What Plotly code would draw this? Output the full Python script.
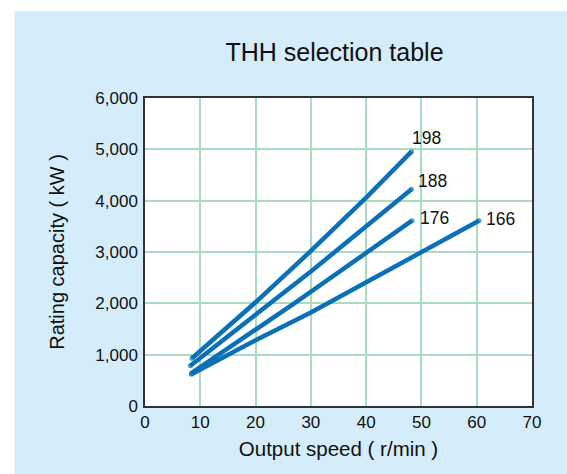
import plotly.graph_objects as go

# ---- data ----
series_names = ["198", "188", "176", "166"]
speed_198 = [8.5, 20.0, 30.0, 40.0, 48.2]
cap_198 = [930, 2020, 3020, 4060, 4955]
speed_188 = [8.2, 30.0, 48.2]
cap_188 = [785, 2620, 4222]
speed_176 = [8.4, 27.0, 48.3]
cap_176 = [640, 2000, 3610]
speed_166 = [8.4, 20.0, 30.0, 40.0, 50.0, 60.4]
cap_166 = [620, 1280, 1820, 2410, 3000, 3610]

x_ticks = [0, 10, 20, 30, 40, 50, 60, 70]
y_ticks = [0, 1000, 2000, 3000, 4000, 5000, 6000]

title_text = "THH selection table"
x_title = "Output speed ( r/min )"
y_title = "Rating capacity ( kW )"

# ---- styling ----
FONT = "Arial, Liberation Sans, sans-serif"
LINE_BLUE = "#0b70b6"
PANEL_BLUE = "#d5ecfa"
GRID_GREEN = "#a8dcbc"
TEXT = "#111111"

W, H = 567, 474
PL, PT = 145.4, 98.0
PR = W - 532.5
PB = H - 405.9

series = [
    ("198", speed_198, cap_198, 15, 14),
    ("188", speed_188, cap_188, 21, 8),
    ("176", speed_176, cap_176, 22, 3),
    ("166", speed_166, cap_166, 22, 2),
]

fig = go.Figure()
annotations = []
for name, xs, ys, dx, dy in series:
    sizes = [5] + [0] * (len(xs) - 2) + [5]
    fig.add_trace(go.Scatter(
        x=xs, y=ys, name=name, mode="lines+markers",
        line=dict(color=LINE_BLUE, width=4.5),
        marker=dict(color=LINE_BLUE, size=sizes, line=dict(width=0)),
        showlegend=False, hoverinfo="x+y+name",
    ))
    annotations.append(dict(
        x=xs[-1], y=ys[-1], xref="x", yref="y", text=name,
        showarrow=False, xanchor="center", yanchor="middle",
        xshift=dx, yshift=dy,
        font=dict(family=FONT, size=17.5, color=TEXT),
    ))

plot_w = W - PL - PR
plot_h = H - PT - PB

fig.update_layout(
    width=W, height=H,
    margin=dict(l=PL, r=PR, t=PT, b=PB, autoexpand=False),
    paper_bgcolor=PANEL_BLUE,
    plot_bgcolor="white",
    font=dict(family=FONT, color=TEXT),
    title=dict(
        text=title_text, xref="container", yref="container",
        x=334.5 / W, y=1 - 52.5 / H, xanchor="center", yanchor="middle",
        font=dict(family=FONT, size=25, color=TEXT),
    ),
    annotations=annotations,
    shapes=[
        # white strip at top (11 px)
        dict(type="rect", xref="paper", yref="paper", x0=-1, x1=2,
             y0=(plot_h + PT - 11) / plot_h, y1=2, fillcolor="white",
             line=dict(width=0), layer="below"),
        # white strip at left (15 px)
        dict(type="rect", xref="paper", yref="paper", x0=-1,
             x1=(15 - PL) / plot_w, y0=-1, y1=2, fillcolor="white",
             line=dict(width=0), layer="below"),
    ],
)

fig.update_xaxes(
    range=[0, 70], tickvals=x_ticks, ticks="",
    showgrid=True, gridcolor=GRID_GREEN, gridwidth=1.5,
    showline=True, linecolor="#333333", linewidth=1.5, mirror=True,
    zeroline=False, tickfont=dict(family=FONT, size=17, color=TEXT),
    title=dict(text=x_title, font=dict(family=FONT, size=20.5, color=TEXT), standoff=10),
    automargin=False, fixedrange=True,
)
fig.update_yaxes(
    range=[0, 6000], tickvals=y_ticks, tickformat=",d", ticks="",
    showgrid=True, gridcolor=GRID_GREEN, gridwidth=1.5,
    showline=True, linecolor="#333333", linewidth=1.5, mirror=True,
    zeroline=False, tickfont=dict(family=FONT, size=17, color=TEXT),
    ticklabelstandoff=2,
    title=dict(text=y_title, font=dict(family=FONT, size=20, color=TEXT), standoff=25),
    automargin=False, fixedrange=True,
)

# remove the browser's default 8px page margin so the figure fills the window
page_css = ("document.body.style.margin='0';"
            "document.documentElement.style.overflow='hidden';")

fig.write_html("out.html", config=dict(displayModeBar=False), post_script=page_css)
